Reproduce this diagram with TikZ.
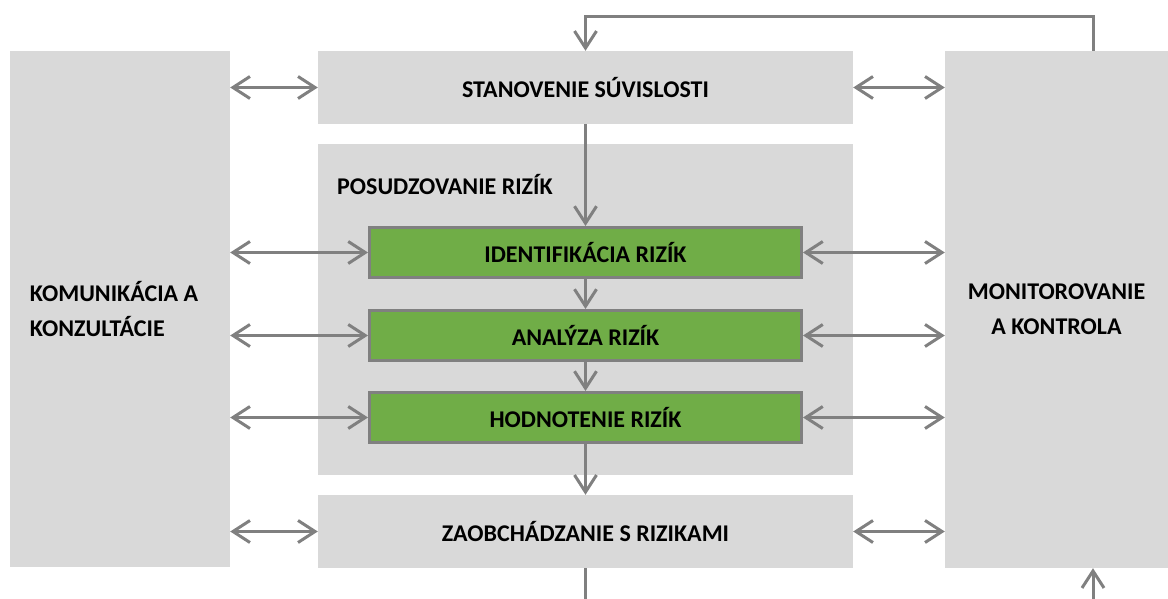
\documentclass[tikz,border=0pt]{standalone}
\usepackage{fontspec}
\setmainfont{Carlito}
\usepackage{tikz}
\usetikzlibrary{arrows.meta,positioning,calc}
\definecolor{boxgray}{HTML}{D9D9D9}
\definecolor{linegray}{HTML}{808080}
\definecolor{riskgreen}{HTML}{70AD47}

\begin{document}
\begin{tikzpicture}[x=1pt,y=-1pt,
  font=\fontsize{24}{35}\selectfont\bfseries,
  graybox/.style={fill=boxgray,inner sep=0pt},
  greenbox/.style={fill=riskgreen,draw=linegray,line width=3pt,minimum width=432pt,minimum height=50pt,inner sep=0pt},
  conn/.style={linegray,line width=3pt},
  arr/.style={conn,-{Straight Barb[length=17pt,width=22pt]}},
  dblarr/.style={conn,{Straight Barb[length=17pt,width=22pt]}-{Straight Barb[length=17pt,width=22pt]}}]
\useasboundingbox (0,0) rectangle (1168,599);
% side boxes
\node[graybox,minimum width=220pt,minimum height=516pt,text width=180pt,align=flush left] (kom) at (120,309) {KOMUNIKÁCIA A\\KONZULTÁCIE};
\node[graybox,minimum width=223pt,minimum height=517pt,align=center] (mon) at (1056.5,309.5) {MONITOROVANIE\\A KONTROLA};
% middle column
\node[graybox,minimum width=535pt,minimum height=73pt] (stan) at (585.5,87.5) {STANOVENIE SÚVISLOSTI};
\node[graybox,minimum width=535pt,minimum height=331pt] (posud) at (585.5,309.5) {};
\node[anchor=west,inner sep=0pt] (posudtext) at (337,185) {POSUDZOVANIE RIZÍK};
\node[greenbox] (ident) at (585.5,252.5) {IDENTIFIKÁCIA RIZÍK};
\node[greenbox] (anal) at (585.5,335.5) {ANALÝZA RIZÍK};
\node[greenbox] (hodn) at (585.5,417.5) {HODNOTENIE RIZÍK};
\node[graybox,minimum width=535pt,minimum height=73pt] (zaob) at (585.5,531.5) {ZAOBCHÁDZANIE S RIZIKAMI};
% free ends
\coordinate (topR) at (1093,17);
\coordinate (botL) at (585.5,599);
\coordinate (botR) at (1093,599);
% vertical flow
\draw[arr] (stan.south) -- (ident.north);
\draw[arr] (ident.south) -- (anal.north);
\draw[arr] (anal.south) -- (hodn.north);
\draw[arr] (hodn.south) -- (zaob.north);
\draw[arr] (mon.north -| topR) -- (topR) -| (stan.north);
\draw[conn] (zaob.south) -- (botL);
\draw[arr] (botR) -- (mon.south -| botR);
% left arrows
\draw[dblarr] (kom.east |- stan.west) -- (stan.west);
\draw[dblarr] (kom.east |- ident.west) -- (ident.west);
\draw[dblarr] (kom.east |- anal.west) -- (anal.west);
\draw[dblarr] (kom.east |- hodn.west) -- (hodn.west);
\draw[dblarr] (kom.east |- zaob.west) -- (zaob.west);
% right arrows
\draw[dblarr] (stan.east) -- (mon.west |- stan.east);
\draw[dblarr] (ident.east) -- (mon.west |- ident.east);
\draw[dblarr] (anal.east) -- (mon.west |- anal.east);
\draw[dblarr] (hodn.east) -- (mon.west |- hodn.east);
\draw[dblarr] (zaob.east) -- (mon.west |- zaob.east);
\end{tikzpicture}
\end{document}
